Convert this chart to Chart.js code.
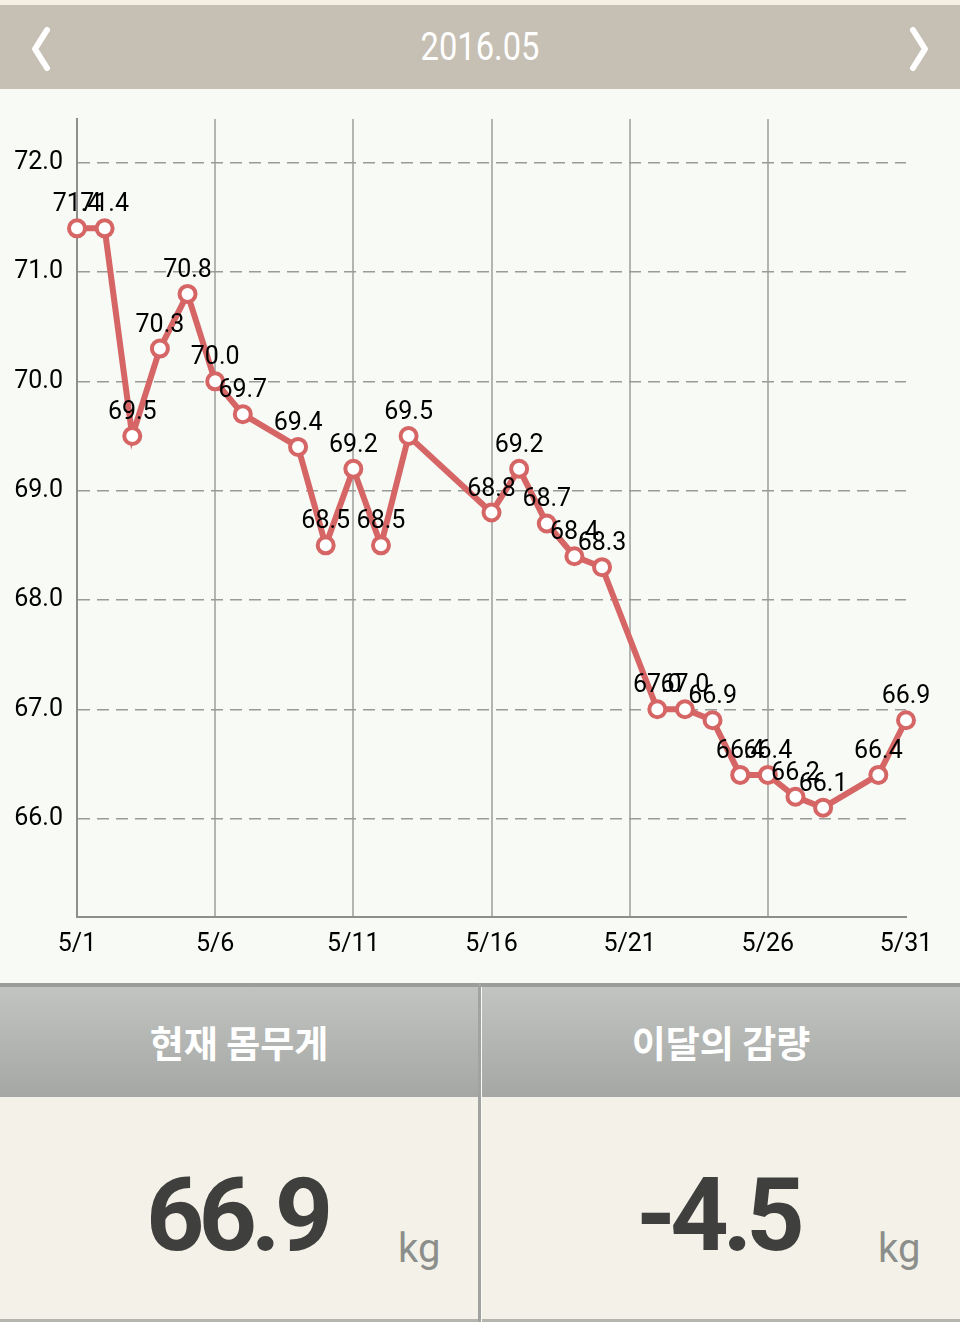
<!DOCTYPE html>
<html>
<head>
<meta charset="utf-8">
<script src="https://cdn.jsdelivr.net/npm/chart.js@4.4.1/dist/chart.umd.min.js"></script>
<style>
    body { margin: 0; width: 960px; height: 1322px; background: #f7faf5; font-family: Roboto, "Noto Sans CJK KR", sans-serif; overflow: hidden; position: relative; }
    .top-strip { position: absolute; left: 0; top: 0; width: 960px; height: 5px; background: #f4f1e4; }
    .month-bar { position: absolute; left: 0; top: 5px; width: 960px; height: 84px; background: #c6bfb4; }
    .month-title { position: absolute; left: 0; width: 960px; top: 20px; text-align: center; color: #fff; font-family: Roboto, sans-serif; font-size: 38px; transform: scaleX(0.86); }
    .arrow { position: absolute; top: 0; }
    .arrow.prev { left: 0; }
    .arrow.next { left: 880px; }
    .chart-box { position: absolute; left: 0; top: 90px; width: 960px; height: 893px; }
    .divider { position: absolute; left: 0; top: 983px; width: 960px; height: 4px; background: #9c9d9b; }
    .panel { position: absolute; top: 987px; width: 478px; height: 335px; }
    .panel.left { left: 0; }
    .panel.right { left: 482px; width: 478px; }
    .vline { position: absolute; left: 478px; top: 983px; width: 3px; height: 339px; background: #a2a3a1; }
    .panel-head { height: 110px; background: linear-gradient(#c1c4c0, #a5a7a5); color: #fff; font-family: "Noto Sans CJK KR", sans-serif; font-weight: 700; font-size: 37px; text-align: center; line-height: 110px; }
    .panel-body { position: absolute; top: 110px; left: 0; right: 0; bottom: 0; background: #f4f2e8; border-bottom: 3px solid #b5b5b0; }
    .big { position: absolute; top: 58px; font-family: Roboto, sans-serif; font-weight: 700; font-size: 102px; color: #3f403e; letter-spacing: -6px; }
    .unit { position: absolute; top: 128px; font-family: Roboto, sans-serif; font-size: 40px; color: #8c8e8b; }
</style>
</head>
<body>
<div class="top-strip"></div>
<div class="month-bar">
    <svg class="arrow prev" width="80" height="84"><polyline points="47,25 35,44 47,63" fill="none" stroke="#fff" stroke-width="6" stroke-linecap="round" stroke-linejoin="round"/></svg>
    <div class="month-title">2016.05</div>
    <svg class="arrow next" width="80" height="84"><polyline points="33,25 45,44 33,63" fill="none" stroke="#fff" stroke-width="6" stroke-linecap="round" stroke-linejoin="round"/></svg>
</div>
<div class="chart-box"><canvas id="weightChart"></canvas></div>
<div class="divider"></div>
<div class="panel left">
    <div class="panel-head">현재 몸무게</div>
    <div class="panel-body">
        <div class="big" style="left: 146px;">66.9</div>
        <div class="unit" style="left: 398px;">kg</div>
    </div>
</div>
<div class="panel right">
    <div class="panel-head">이달의 감량</div>
    <div class="panel-body">
        <div class="big" style="left: 154px;">-4.5</div>
        <div class="unit" style="left: 396px;">kg</div>
    </div>
</div>
<div class="vline"></div>

<script>
// May 2016 weigh-ins (day of month -> kg)
const days = [1, 2, 3, 4, 5, 6, 7, 9, 10, 11, 12, 13, 16, 17, 18, 19, 20, 22, 23, 24, 25, 26, 27, 28, 30, 31];
const weights = [71.4, 71.4, 69.5, 70.3, 70.8, 70.0, 69.7, 69.4, 68.5, 69.2, 68.5, 69.5, 68.8, 69.2, 68.7, 68.4, 68.3, 67.0, 67.0, 66.9, 66.4, 66.4, 66.2, 66.1, 66.4, 66.9];
const xTicks = [1, 6, 11, 16, 21, 26, 31];
const yTicks = [66, 67, 68, 69, 70, 71, 72];

const lineColor = '#d66565';
const tickFont = { family: 'Roboto', size: 25 };

// value labels above each point
const valueLabels = {
    id: 'valueLabels',
    afterDatasetsDraw(chart) {
        const ctx = chart.ctx;
        const meta = chart.getDatasetMeta(0);
        ctx.save();
        ctx.font = '25px Roboto';
        ctx.fillStyle = '#000';
        ctx.textAlign = 'center';
        ctx.textBaseline = 'alphabetic';
        meta.data.forEach((pt, i) => {
            ctx.fillText(weights[i].toFixed(1), pt.x, pt.y - 17);
        });
        ctx.restore();
    }
};

document.addEventListener('DOMContentLoaded', function() {
    const ctx = document.getElementById('weightChart').getContext('2d');
    const weightChart = new Chart(ctx, {
        type: 'line',
        data: {
            datasets: [{
                data: days.map((d, i) => ({ x: d, y: weights[i] })),
                borderColor: lineColor,
                borderWidth: 6,
                pointRadius: 8,
                pointBorderWidth: 4,
                pointBackgroundColor: '#fff',
                pointBorderColor: lineColor,
                tension: 0,
                clip: false
            }]
        },
        options: {
            responsive: true,
            maintainAspectRatio: false,
            animation: false,
            layout: { padding: { top: 26, right: 54, left: 0, bottom: 0 } },
            plugins: {
                legend: { display: false },
                tooltip: { enabled: false }
            },
            scales: {
                x: {
                    type: 'linear',
                    min: 1,
                    max: 31,
                    afterBuildTicks: axis => { axis.ticks = xTicks.map(v => ({ value: v })); },
                    afterFit: axis => { axis.height = 66; },
                    ticks: {
                        callback: v => '5/' + v,
                        color: '#000',
                        font: tickFont,
                        padding: 13,
                        maxRotation: 0
                    },
                    grid: {
                        drawTicks: false,
                        lineWidth: 2,
                        color: c => (c.tick && c.tick.value === 31) ? 'rgba(0,0,0,0)' : '#b4b4b2'
                    },
                    border: { color: '#8e8e8c', width: 2 }
                },
                y: {
                    min: 65.1,
                    max: 72.4,
                    afterBuildTicks: axis => { axis.ticks = yTicks.map(v => ({ value: v })); },
                    afterFit: axis => { axis.width = 77; },
                    ticks: {
                        callback: v => v.toFixed(1),
                        color: '#000',
                        font: tickFont,
                        padding: 14
                    },
                    grid: {
                        drawTicks: false,
                        lineWidth: 1.5,
                        color: '#9a9a98'
                    },
                    border: { color: '#8e8e8c', width: 2, dash: [12, 7] }
                }
            }
        },
        plugins: [valueLabels]
    });
});
</script>
</body>
</html>
